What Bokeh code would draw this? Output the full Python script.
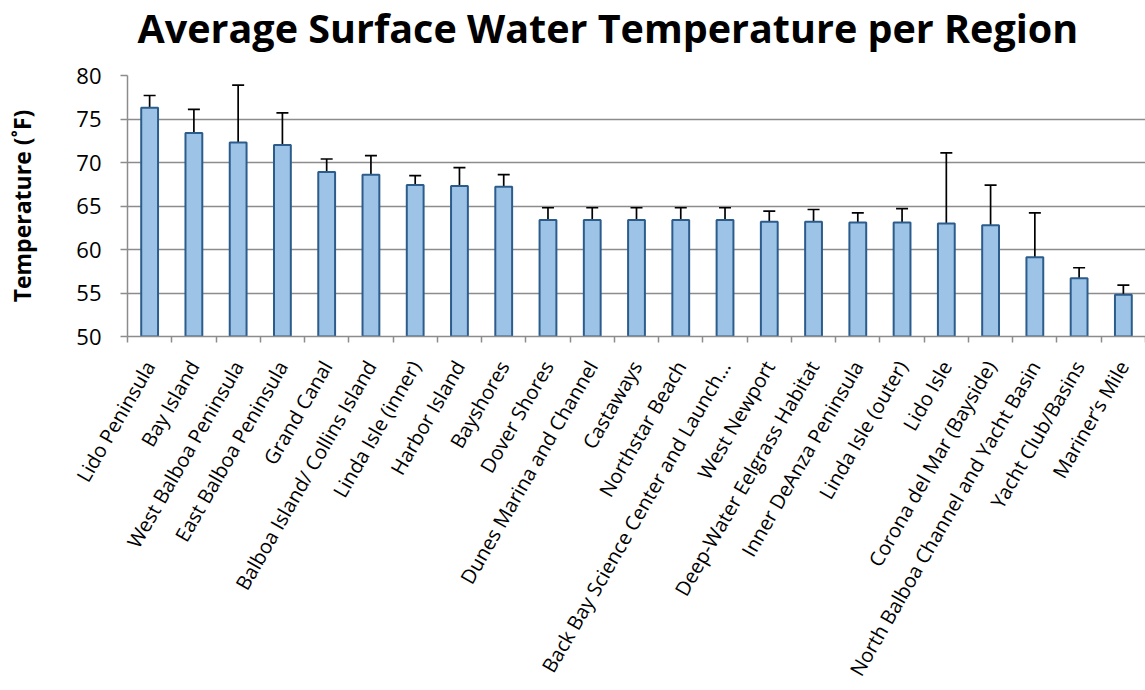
from bokeh.plotting import figure
from bokeh.models import Range1d, FixedTicker, ColumnDataSource, Whisker, TeeHead, Title
from bokeh.embed import file_html
from bokeh.resources import INLINE
import math

categories = ["Lido Peninsula", "Bay Island", "West Balboa Peninsula", "East Balboa Peninsula",
              "Grand Canal", "Balboa Island/ Collins Island", "Linda Isle (inner)", "Harbor Island",
              "Bayshores", "Dover Shores", "Dunes Marina and Channel", "Castaways", "Northstar Beach",
              "Back Bay Science Center and Launch\u2026", "West Newport", "Deep-Water Eelgrass Habitat",
              "Inner DeAnza Peninsula", "Linda Isle (outer)", "Lido Isle", "Corona del Mar (Bayside)",
              "North Balboa Channel and Yacht Basin", "Yacht Club/Basins", "Mariner\u2019s Mile"]
means = [76.3, 73.4, 72.3, 72.0, 68.9, 68.6, 67.4, 67.3, 67.2, 63.4, 63.4, 63.4, 63.4, 63.4,
         63.2, 63.2, 63.1, 63.1, 63.0, 62.8, 59.1, 56.7, 54.8]
upper = [77.7, 76.1, 78.9, 75.7, 70.4, 70.8, 68.5, 69.4, 68.6, 64.8, 64.8, 64.8, 64.8, 64.8,
         64.4, 64.6, 64.2, 64.7, 71.1, 67.4, 64.2, 57.9, 55.9]
lower = [74.8, 70.6, 65.7, 68.2, 67.5, 66.4, 66.2, 65.2, 65.8, 62.0, 62.0, 62.0, 62.0, 62.0,
         62.0, 61.8, 62.0, 61.3, 54.8, 58.1, 53.9, 55.5, 53.7]
y_ticks = [50, 55, 60, 65, 70, 75, 80]

n = len(categories)
xs = [i + 0.5 for i in range(n)]
src = ColumnDataSource(dict(x=xs, top=means, upper=upper, lower=lower,
                            base=[y_ticks[0]] * n))

FONT = "Open Sans"
GRID = "#8c8c8c"

p = figure(width=1145, height=690, output_backend="svg", toolbar_location=None,
           x_range=Range1d(0, n), y_range=Range1d(y_ticks[0], y_ticks[-1]),
           min_border_left=127, min_border_right=0, min_border_bottom=352, min_border_top=10)

# spacer between the title and the plot area
p.add_layout(Title(text=" ", text_font_size="10px", standoff=6), "above")

p.title.text = "Average Surface Water Temperature per Region"
p.title.text_font = FONT
p.title.text_font_style = "bold"
p.title.text_font_size = "39.5px"
p.title.text_color = "black"
p.title.align = "left"
p.title.vertical_align = "top"
p.title.offset = 10
p.title.standoff = 0

p.vbar(x="x", top="top", bottom="base", width=0.38, source=src,
       fill_color="#9dc3e6", line_color="#2c5c8c", line_width=2)

wh = Whisker(base="x", upper="upper", lower="lower", source=src,
             line_color="black", line_width=1.7,
             upper_head=TeeHead(size=12, line_color="black", line_width=1.7),
             lower_head=TeeHead(size=12, line_color="black", line_width=1.7))
p.add_layout(wh)

p.outline_line_color = None
p.xgrid.grid_line_color = None
p.ygrid.grid_line_color = GRID
p.ygrid.grid_line_width = 1.5
p.ygrid.ticker = FixedTicker(ticks=y_ticks)

ya = p.yaxis[0]
ya.ticker = FixedTicker(ticks=y_ticks)
ya.axis_line_color = GRID
ya.axis_line_width = 1.5
ya.major_tick_line_color = GRID
ya.major_tick_line_width = 1.5
ya.major_tick_out = 7
ya.major_tick_in = 0
ya.minor_tick_line_color = None
ya.major_label_text_font = FONT
ya.major_label_text_font_size = "22px"
ya.major_label_text_color = "black"
ya.major_label_standoff = 19
ya.axis_label = "Temperature (\u02daF)"
ya.axis_label_text_font = FONT
ya.axis_label_text_font_style = "bold"
ya.axis_label_text_font_size = "23px"
ya.axis_label_text_color = "black"
ya.axis_label_standoff = 35

xa = p.xaxis[0]
xa.ticker = FixedTicker(ticks=xs, minor_ticks=list(range(n + 1)))
xa.major_label_overrides = {x: c for x, c in zip(xs, categories)}
xa.major_label_orientation = math.radians(60)
xa.major_label_text_font = FONT
xa.major_label_text_font_size = "20px"
xa.major_label_text_color = "black"
xa.major_label_standoff = 20
xa.axis_line_color = GRID
xa.axis_line_width = 1.5
xa.major_tick_out = 6
xa.major_tick_line_color = None
xa.minor_tick_line_color = GRID
xa.minor_tick_line_width = 1.5
xa.minor_tick_out = 6
xa.minor_tick_in = 0

open("out.html", "w").write(file_html(p, INLINE))
